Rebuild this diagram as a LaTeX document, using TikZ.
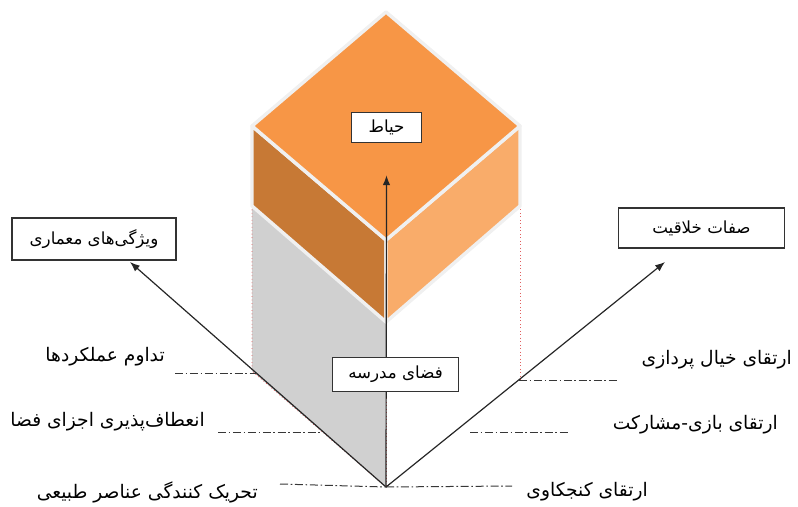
\documentclass[tikz,border=0pt]{standalone}
\usepackage{fontspec}
\usepackage{xcolor}
\usepackage{tikz}
\usetikzlibrary{arrows.meta,positioning,calc}
\TeXXeTstate=1
\newfontfamily\farsifont[Script=Arabic]{DejaVu Sans}
\newcommand{\rtltext}[1]{\beginR #1\endR}
\definecolor{topface}{RGB}{247,150,70}
\definecolor{leftface}{RGB}{199,121,53}
\definecolor{rightface}{RGB}{249,172,106}
\definecolor{groundgray}{RGB}{208,208,208}
\definecolor{edgewhite}{RGB}{240,240,240}
\definecolor{guidered}{RGB}{225,95,95}
\definecolor{dashgray}{RGB}{55,55,55}

\begin{document}
\begin{tikzpicture}[x=0.75pt, y=-0.75pt,
  titlebox/.style={rectangle, draw=black!80, fill=white, line width=0.8pt, align=center, font=\farsifont\fontsize{12.5}{14}\selectfont, inner sep=2pt},
  sidelabel/.style={font=\farsifont\fontsize{14}{16}\selectfont, inner sep=0pt},
  axisarrow/.style={-{Latex[length=2.6mm,width=2mm]}, line width=0.9pt, color=black!85},
  guideline/.style={dashgray, line width=0.75pt, dash pattern=on 6pt off 2pt on 1.2pt off 2pt},
  dropline/.style={guidered, dotted, line width=0.6pt},
  face/.style={draw=edgewhite, line width=2.6pt, line join=round}
]
\useasboundingbox (0,0) rectangle (798,506);

% Cube corners and origin
\coordinate (o) at (386,487);
\coordinate (ctop) at (386,12);
\coordinate (cleft) at (252,126);
\coordinate (cright) at (520,126);
\coordinate (cfront) at (386,240);
\coordinate (cbot) at (386,322);
\coordinate (cleftb) at (252,206);
\coordinate (crightb) at (520,206);
\coordinate (gleft) at (252,371);

% Gray ground face under the cube
\fill[groundgray] (cleftb) -- (cbot) -- (o) -- (gleft) -- cycle;
\draw[dropline] (cleftb) -- (gleft) -- (o);
\draw[dropline] (crightb) -- (520,380);
\draw[dropline] (cbot) -- (o);

% Cube faces
\draw[face, fill=leftface] (cleft) -- (cfront) -- (cbot) -- (cleftb) -- cycle;
\draw[face, fill=rightface] (cfront) -- (cright) -- (crightb) -- (cbot) -- cycle;
\draw[face, fill=topface] (ctop) -- (cright) -- (cfront) -- (cleft) -- cycle;

% Boxes
\node[titlebox, minimum width=52pt, minimum height=23pt] (yard) at (386.5,127.5) {\rtltext{حیاط}};
\node[titlebox, minimum width=123pt, minimum height=31.5pt] (archi) at (94,239) {\rtltext{ویژگی^^^^200cهای معماری}};
\node[titlebox, minimum width=125pt, minimum height=30pt] (creat) at (701.5,228) {\rtltext{صفات خلاقیت}};

% Axes
\coordinate (tipL) at (130,262);
\coordinate (tipR) at (665,262);
\draw[axisarrow] (o) -- (tipL);
\draw[axisarrow] (o) -- (tipR);
\draw[axisarrow] (o) -- ($(yard.south)+(0,32)$);

\node[titlebox, minimum width=94pt, minimum height=26pt] (school) at (395.5,374.5) {\rtltext{فضای مدرسه}};

% Left guide lines and labels
\draw[guideline] (175,373) -- (257,373);
\draw[guideline] (218,432) -- (324,432);
\draw[guideline] (280,484) -- (o);
\node[sidelabel, anchor=east] (cont) at (165,357) {\rtltext{تداوم عملکردها}};
\node[sidelabel, anchor=east] (flex) at (205,422) {\rtltext{انعطاف^^^^200cپذیری اجزای فضا}};
\node[sidelabel, anchor=east] (stim) at (258,492) {\rtltext{تحریک کنندگی عناصر طبیعی}};

% Right guide lines and labels
\draw[guideline] (519,380) -- (618,380);
\draw[guideline] (470,432) -- (570,432);
\draw[guideline] (o) -- (512,486);
\node[sidelabel, anchor=east] (imag) at (792,360) {\rtltext{ارتقای خیال پردازی}};
\node[sidelabel, anchor=east] (play) at (778,425) {\rtltext{ارتقای بازی-مشارکت}};
\node[sidelabel, anchor=east] (curi) at (648,492) {\rtltext{ارتقای کنجکاوی}};

\end{tikzpicture}
\end{document}
